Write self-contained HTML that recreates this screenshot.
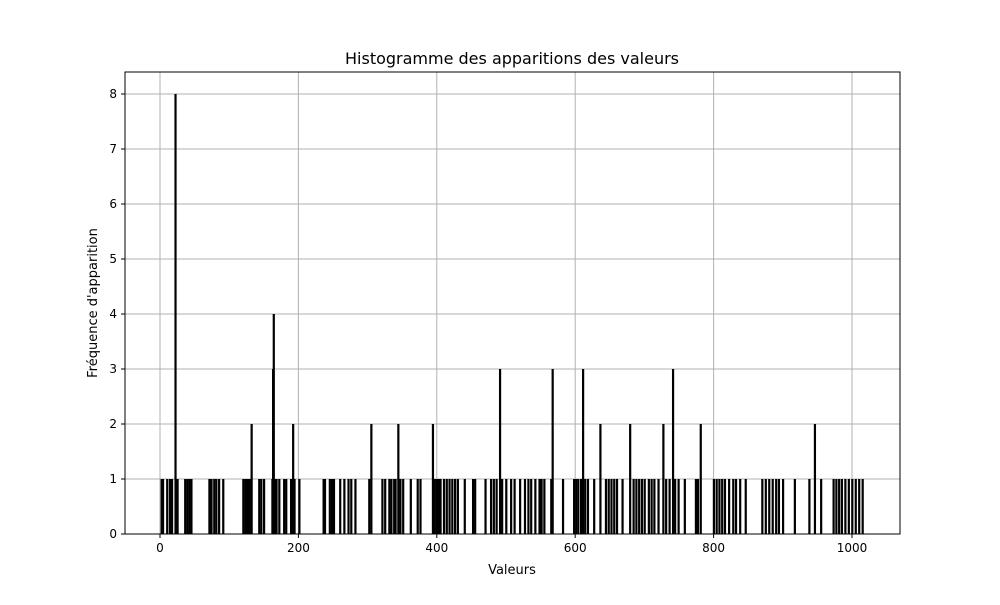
<!DOCTYPE html>
<html><head><meta charset="utf-8"><style>
body{margin:0;background:#fff}
svg text{font-family:"DejaVu Sans","Liberation Sans",sans-serif;fill:#000}
</style></head><body>
<svg id="chart" width="1000" height="600">
<rect width="1000" height="600" fill="#fff"/>
<text x="512" y="64" font-size="16" text-anchor="middle">Histogramme des apparitions des valeurs</text>
<g id="grid"></g><g id="bars"></g><g id="axes"></g>
<text x="512" y="574" font-size="13" text-anchor="middle">Valeurs</text>
<text transform="translate(97,303) rotate(-90)" font-size="13" text-anchor="middle">Fréquence d'apparition</text>
</svg>
<script>
const values=[2,4,10,14,17,22,25,36,39,42,45,71,74,78,81,85,91,120,123,126,129,132,143,146,150,162,163,164,166,168,172,179,182,189,190,192,194,201,236,238,245,248,251,260,266,272,276,282,302,305,321,325,331,334,338,340,344,347,351,362,372,376,394,396,399,402,405,410,414,418,422,426,430,440,452,455,470,478,482,486,491,494,500,507,512,520,527,532,536,542,548,551,555,565,567,582,598,601,604,608,611,614,618,627,636,644,648,652,656,660,668,679,684,688,692,696,700,706,710,714,720,727,731,736,741,744,749,758,774,777,781,800,804,808,812,816,822,828,832,838,846,870,875,880,885,890,894,900,917,938,946,955,973,977,981,985,990,995,1000,1005,1010,1015];
const counts=[1,1,1,1,1,8,1,1,1,1,1,1,1,1,1,1,1,1,1,1,1,2,1,1,1,1,3,4,1,1,1,1,1,1,1,2,1,1,1,1,1,1,1,1,1,1,1,1,1,2,1,1,1,1,1,1,2,1,1,1,1,1,2,1,1,1,1,1,1,1,1,1,1,1,1,1,1,1,1,1,3,1,1,1,1,1,1,1,1,1,1,1,1,1,3,1,1,1,1,1,3,1,1,1,2,1,1,1,1,1,1,2,1,1,1,1,1,1,1,1,1,2,1,1,3,1,1,1,1,1,2,1,1,1,1,1,1,1,1,1,1,1,1,1,1,1,1,1,1,1,2,1,1,1,1,1,1,1,1,1,1,1];
const xTicks=[0,200,400,600,800,1000];
const yTicks=[0,1,2,3,4,5,6,7,8];
const X0=125,X1=900,Y0=72,Y1=534;
const xs=v=>160+v*0.692, ys=v=>534-v*55;
const NS='http://www.w3.org/2000/svg';
function mk(t,a,p){const e=document.createElementNS(NS,t);for(const k in a)e.setAttribute(k,a[k]);p.appendChild(e);return e;}
const G=document.getElementById('grid'),B=document.getElementById('bars'),A=document.getElementById('axes');
xTicks.forEach(t=>{
 const l=mk('line',{x1:xs(t),x2:xs(t),y1:Y0,y2:Y1,stroke:'#b0b0b0','stroke-width':1},G);
 
 
 mk('line',{x1:xs(t),x2:xs(t),y1:Y1,y2:Y1+4,stroke:'#000'},A);
 const tx=mk('text',{x:xs(t),y:Y1+18,'font-size':12,'text-anchor':'middle'},A);tx.textContent=t;
 
 
});
yTicks.forEach(t=>{
 const l=mk('line',{x1:X0,x2:X1,y1:ys(t),y2:ys(t),stroke:'#b0b0b0','stroke-width':1},G);
 
 
 mk('line',{x1:X0-4,x2:X0,y1:ys(t),y2:ys(t),stroke:'#000'},A);
 const tx=mk('text',{x:X0-8,y:ys(t)+4,'font-size':12,'text-anchor':'end'},A);tx.textContent=t;
 
 
});
values.forEach((v,i)=>{
 const r=mk('rect',{x:xs(v)-0.8,y:ys(counts[i]),width:2.2,height:ys(0)-ys(counts[i]),fill:'#000'},B);
 
 
});
const f=mk('rect',{x:X0,y:Y0,width:X1-X0,height:Y1-Y0,fill:'none',stroke:'#000','stroke-width':1},A);


</script>
</body></html>
